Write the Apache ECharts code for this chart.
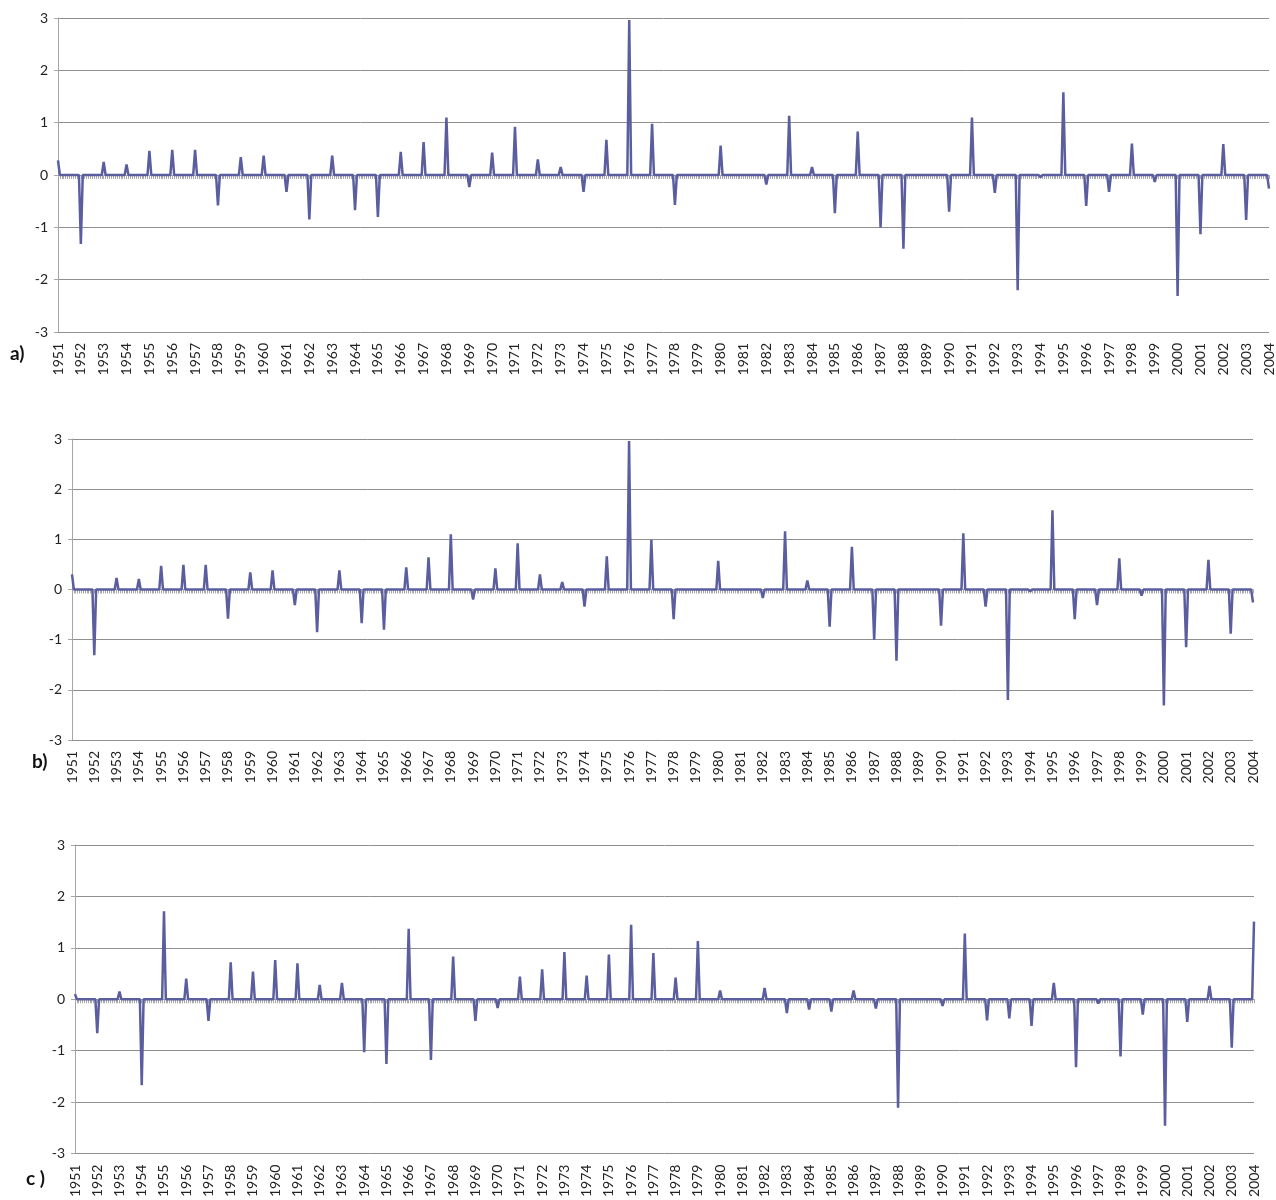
<!DOCTYPE html>
<html>
<head>
<meta charset="utf-8">
<title>Anomalies 1951-2004</title>
<script src="https://cdn.jsdelivr.net/npm/echarts@6/dist/echarts.min.js"></script>
<style>
  html, body { margin: 0; padding: 0; background: #fff; }
  #chart { width: 1276px; height: 1200px; }
</style>
</head>
<body>
<div id="chart"></div>
<script>
// years on the axis, one label per January
const years = [];
for (let y = 1951; y <= 2004; y++) years.push(String(y));

// value of each panel in January of every year (all other months are 0)
const valuesA = [0.28, -1.32, 0.25, 0.2, 0.46, 0.48, 0.48, -0.58, 0.34, 0.37,
  -0.32, -0.85, 0.37, -0.67, -0.8, 0.44, 0.63, 1.1, -0.23, 0.43,
  0.92, 0.3, 0.15, -0.32, 0.67, 2.96, 0.98, -0.57, 0.02, 0.56,
  0, -0.18, 1.13, 0.15, -0.73, 0.83, -1.0, -1.41, 0, -0.7,
  1.1, -0.34, -2.2, -0.04, 1.58, -0.59, -0.32, 0.6, -0.13, -2.31,
  -1.13, 0.59, -0.86, -0.26];
const valuesB = [0.3, -1.31, 0.23, 0.21, 0.47, 0.49, 0.49, -0.58, 0.34, 0.38,
  -0.31, -0.85, 0.38, -0.67, -0.8, 0.44, 0.64, 1.1, -0.2, 0.42,
  0.92, 0.3, 0.15, -0.34, 0.66, 2.96, 0.99, -0.59, 0.02, 0.57,
  0, -0.17, 1.16, 0.18, -0.74, 0.85, -1.0, -1.42, 0, -0.72,
  1.12, -0.34, -2.2, -0.04, 1.58, -0.59, -0.31, 0.62, -0.12, -2.31,
  -1.15, 0.59, -0.88, -0.26];
const valuesC = [0.1, -0.66, 0.15, -1.67, 1.71, 0.4, -0.42, 0.72, 0.54, 0.76,
  0.7, 0.28, 0.32, -1.03, -1.26, 1.37, -1.18, 0.83, -0.42, -0.17,
  0.44, 0.58, 0.92, 0.46, 0.87, 1.45, 0.9, 0.42, 1.13, 0.17,
  0.02, 0.22, -0.27, -0.2, -0.24, 0.17, -0.18, -2.11, -0.02, -0.13,
  1.28, -0.41, -0.37, -0.52, 0.32, -1.32, -0.08, -1.11, -0.3, -2.46,
  -0.44, 0.26, -0.94, 1.51];

const yTicks = [-3, -2, -1, 0, 1, 2, 3];

// monthly categories from Jan 1951 to Jan 2004
const months = [];
years.forEach((y, i) => {
  const last = i === years.length - 1;
  for (let m = 0; m < (last ? 1 : 12); m++) months.push(m === 0 ? y : y + '-' + (m + 1));
});

function monthly(vals) {
  return months.map((_, i) => (i % 12 === 0 ? vals[i / 12] : 0));
}

const lineColor = '#5a5e9f';
const gridColor = '#8f8f8f';
const font = 'Lato, "Open Sans", sans-serif';

const panels = [
  { name: 'a', data: valuesA, left: 58, top: 18, width: 1211, height: 314, tag: 'a)', tx: 10, ty: 354 },
  { name: 'b', data: valuesB, left: 72, top: 439, width: 1181, height: 301, tag: 'b)', tx: 32, ty: 762 },
  { name: 'c', data: valuesC, left: 75, top: 845, width: 1179, height: 315, tag: 'c )', tx: 26, ty: 1179 }
];

const grid = [], xAxis = [], yAxis = [], series = [], graphic = [];

panels.forEach((p, i) => {
  grid.push({ left: p.left, top: p.top, width: p.width, height: p.height, containLabel: false });
  // labels along the bottom
  xAxis.push({
    type: 'category', gridIndex: i, position: 'bottom', data: months, boundaryGap: false,
    axisLine: { show: false, onZero: false },
    axisTick: { show: false },
    axisLabel: {
      interval: idx => idx % 12 === 0,
      rotate: 90, margin: 11, fontFamily: font, fontSize: 14, color: '#222',
      formatter: v => v.slice(0, 4)
    }
  });
  // month ticks on the zero line
  xAxis.push({
    type: 'category', gridIndex: i, position: 'bottom', data: months, boundaryGap: false,
    axisLine: { show: true, onZero: true, lineStyle: { color: '#a0a0a0', width: 1 } },
    axisTick: { show: true, interval: 0, length: 4, lineStyle: { color: '#a8a8a8', width: 1 } },
    axisLabel: { show: false }
  });
  yAxis.push({
    type: 'value', gridIndex: i, min: yTicks[0], max: yTicks[yTicks.length - 1], interval: 1,
    axisLine: { show: true, lineStyle: { color: '#a6a6a6', width: 1 } },
    axisTick: { show: true, length: 4, lineStyle: { color: '#a6a6a6' } },
    axisLabel: { margin: 10, fontFamily: font, fontSize: 14, color: '#222' },
    splitLine: { show: true, lineStyle: { color: gridColor, width: 1 } }
  });
  series.push({
    name: p.name, type: 'line', xAxisIndex: i * 2, yAxisIndex: i,
    data: monthly(p.data), showSymbol: false, symbol: 'none',
    lineStyle: { color: lineColor, width: 2.5 }, z: 5
  });
  graphic.push({
    type: 'text', left: p.tx, top: p.ty - 10,
    style: { text: p.tag, font: 'bold 19px ' + font, fill: '#111' }
  });
});

const chart = echarts.init(document.getElementById('chart'), null, { renderer: 'canvas' });
chart.setOption({
  animation: false,
  backgroundColor: '#fff',
  grid, xAxis, yAxis, series, graphic
});
</script>
</body>
</html>
